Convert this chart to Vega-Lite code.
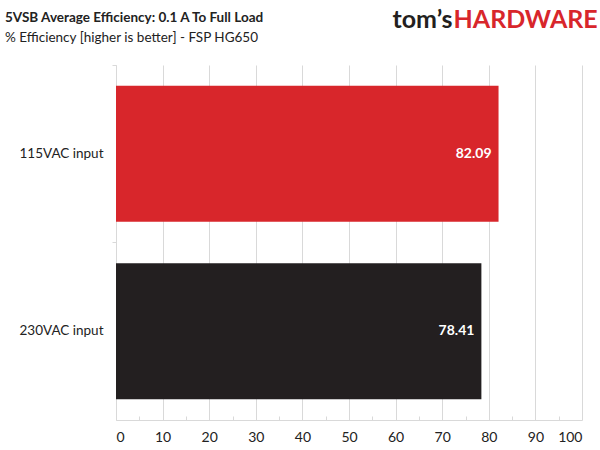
{
  "$schema": "https://vega.github.io/schema/vega-lite/v6.json",
  "width": 466,
  "height": 355,
  "autosize": {"type": "none"},
  "padding": {"left": 116, "top": 65, "right": 18, "bottom": 30},
  "background": "white",
  "config": {
    "view": {"stroke": null},
    "font": "Lato"
  },
  "title": {
    "text": "5VSB Average Efficiency: 0.1 A To Full Load",
    "subtitle": "% Efficiency [higher is better] - FSP HG650",
    "anchor": "start",
    "frame": "group",
    "dx": -111,
    "offset": -37,
    "font": "Lato",
    "fontSize": 13.5,
    "fontWeight": "bold",
    "color": "#222222",
    "subtitleFont": "Lato",
    "subtitleFontSize": 13.5,
    "subtitleColor": "#222222",
    "subtitlePadding": 6
  },
  "data": {
    "values": [
      {"input": "115VAC input", "efficiency": 82.09},
      {"input": "230VAC input", "efficiency": 78.41}
    ]
  },
  "encoding": {
    "y": {
      "field": "input",
      "type": "nominal",
      "sort": null,
      "scale": {"paddingInner": 0, "paddingOuter": 0}
    },
    "x": {
      "field": "efficiency",
      "type": "quantitative",
      "scale": {"domain": [0, 100], "nice": false}
    }
  },
  "layer": [
    {
      "mark": {"type": "bar", "height": {"band": 0.766}},
      "encoding": {
        "y": {
          "field": "input",
          "type": "nominal",
          "sort": null,
          "axis": {
            "title": null,
            "domainColor": "#d9d9d9",
            "tickColor": "#d9d9d9",
            "tickSize": 4,
            "bandPosition": 0,
            "labelFont": "Lato",
            "labelFontSize": 13.5,
            "labelColor": "#222222",
            "labelPadding": 9,
            "grid": false
          }
        },
        "x": {
          "field": "efficiency",
          "type": "quantitative",
          "axis": {
            "title": null,
            "values": [0, 5, 10, 15, 20, 25, 30, 35, 40, 45, 50, 55, 60, 65, 70, 75, 80, 85, 90, 95, 100],
            "labelExpr": "datum.value % 10 === 0 ? datum.label : ''",
            "grid": true,
            "gridColor": "#d9d9d9",
            "gridOpacity": {"condition": {"test": "datum.value % 10 === 0", "value": 1}, "value": 0},
            "domainColor": "#d9d9d9",
            "tickColor": "#d9d9d9",
            "tickSize": {"condition": {"test": "datum.value % 10 === 0", "value": 0}, "value": -4},
            "labelFont": "Lato",
            "labelFontSize": 14,
            "labelColor": "#222222",
            "labelPadding": 10
          }
        },
        "color": {
          "field": "input",
          "type": "nominal",
          "scale": {"domain": ["115VAC input", "230VAC input"], "range": ["#d8262b", "#231f20"]},
          "legend": null
        }
      }
    },
    {
      "mark": {"type": "text", "align": "right", "baseline": "middle", "dx": -7, "color": "white", "fontWeight": "bold", "fontSize": 14, "font": "Lato"},
      "encoding": {
        "text": {"field": "efficiency", "type": "quantitative", "format": ".2f"},
        "x": {
          "field": "efficiency",
          "type": "quantitative",
          "axis": {
            "orient": "top",
            "title": "tom’s",
            "labels": false,
            "ticks": false,
            "domain": false,
            "grid": false,
            "titleFont": "Lato",
            "titleFontSize": 25,
            "titleFontWeight": "bold",
            "titleColor": "#231f20",
            "titleAlign": "left",
            "titleBaseline": "alphabetic",
            "titleAngle": 0,
            "titleX": 276,
            "titleY": -38
          }
        },
        "y": {
          "field": "input",
          "type": "nominal",
          "sort": null,
          "axis": {
            "orient": "right",
            "title": "HARDWARE",
            "labels": false,
            "ticks": false,
            "domain": false,
            "grid": false,
            "titleFont": "Lato",
            "titleFontSize": 25,
            "titleFontWeight": "bold",
            "titleColor": "#d8262b",
            "titleAlign": "left",
            "titleBaseline": "alphabetic",
            "titleAngle": 0,
            "titleX": -129,
            "titleY": -38
          }
        }
      }
    }
  ],
  "resolve": {"axis": {"x": "independent", "y": "independent"}}
}
